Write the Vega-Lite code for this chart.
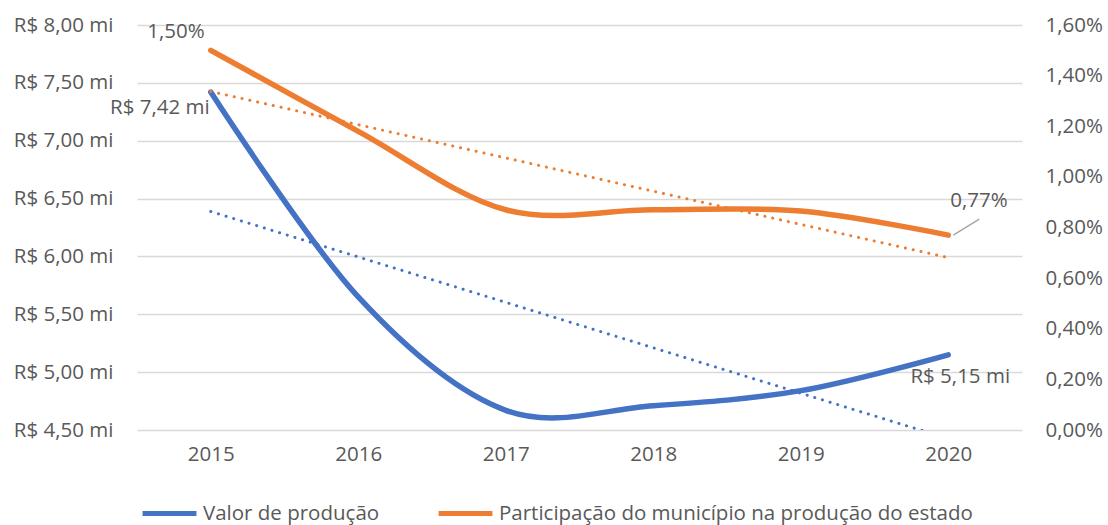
{
  "$schema": "https://vega.github.io/schema/vega-lite/v6.json",
  "width": 885,
  "height": 405,
  "autosize": {"type": "none"},
  "padding": {"left": 137, "top": 25, "right": 86, "bottom": 95},
  "background": "#ffffff",
  "config": {
    "font": "Open Sans",
    "view": {"stroke": null},
    "locale": {"number": {"decimal": ",", "thousands": ".", "grouping": [3], "currency": ["R$ ", " mi"]}},
    "text": {"font": "Open Sans", "fontSize": 20.5, "color": "#595959"}
  },
  "data": {
    "values": [
      {"ano": 2015, "valor": 7.42, "part": 0.0150},
      {"ano": 2016, "valor": 5.65, "part": 0.0118},
      {"ano": 2017, "valor": 4.67, "part": 0.0087},
      {"ano": 2018, "valor": 4.71, "part": 0.0087},
      {"ano": 2019, "valor": 4.84, "part": 0.00865},
      {"ano": 2020, "valor": 5.15, "part": 0.0077}
    ]
  },
  "encoding": {
    "x": {
      "field": "ano",
      "type": "quantitative",
      "title": null,
      "scale": {"domain": [2014.5, 2020.5], "nice": false, "zero": false},
      "axis": {
        "values": [2015, 2016, 2017, 2018, 2019, 2020],
        "format": "d",
        "grid": false,
        "domain": false,
        "ticks": false,
        "labelFontSize": 20.5,
        "labelColor": "#595959",
        "labelPadding": 14
      }
    }
  },
  "layer": [
    {
      "encoding": {
        "y": {
          "field": "valor",
          "type": "quantitative",
          "title": null,
          "scale": {"domain": [4.5, 8], "nice": false, "zero": false},
          "axis": {
            "values": [4.5, 5, 5.5, 6, 6.5, 7, 7.5, 8],
            "format": "$.2f",
            "grid": true,
            "gridColor": "#D9D9D9",
            "gridWidth": 1.3,
            "domain": false,
            "ticks": false,
            "labelFontSize": 20.5,
            "labelColor": "#595959",
            "labelPadding": 24
          }
        }
      },
      "layer": [
        {
          "mark": {"type": "line", "interpolate": "cardinal", "strokeWidth": 5.5, "strokeCap": "round"},
          "encoding": {
            "color": {
              "datum": "Valor de produção",
              "scale": {
                "domain": ["Valor de produção", "Participação do município na produção do estado"],
                "range": ["#4472C4", "#ED7D31"]
              },
              "legend": {
                "orient": "none",
                "legendX": 3,
                "legendY": 459,
                "direction": "horizontal",
                "title": null,
                "symbolType": "stroke",
                "symbolSize": 2900,
                "symbolStrokeWidth": 5,
                "labelFontSize": 20.5,
                "labelColor": "#595959",
                "labelFont": "Open Sans",
                "labelOffset": 4,
                "columnPadding": 48,
                "labelLimit": 600
              }
            }
          }
        },
        {
          "transform": [{"regression": "valor", "on": "ano"}],
          "mark": {"type": "line", "clip": true, "color": "#4472C4", "strokeDash": [0.1, 7.9], "strokeWidth": 3, "strokeCap": "round"}
        },
        {
          "transform": [{"filter": "datum.ano == 2015"}],
          "mark": {"type": "text", "align": "right", "baseline": "middle", "dx": -1, "dy": 16},
          "encoding": {"text": {"field": "valor", "type": "quantitative", "format": "$.2f"}}
        },
        {
          "transform": [{"filter": "datum.ano == 2020"}],
          "mark": {"type": "text", "align": "center", "baseline": "middle", "dx": 12, "dy": 22},
          "encoding": {"text": {"field": "valor", "type": "quantitative", "format": "$.2f"}}
        }
      ]
    },
    {
      "encoding": {
        "y": {
          "field": "part",
          "type": "quantitative",
          "title": null,
          "scale": {"domain": [0, 0.016], "nice": false},
          "axis": {
            "orient": "right",
            "values": [0, 0.002, 0.004, 0.006, 0.008, 0.01, 0.012, 0.014, 0.016],
            "format": ".2%",
            "grid": false,
            "domain": false,
            "ticks": false,
            "labelFontSize": 20.5,
            "labelColor": "#595959",
            "labelPadding": 23
          }
        }
      },
      "layer": [
        {
          "mark": {"type": "line", "interpolate": "cardinal", "strokeWidth": 5.5, "strokeCap": "round"},
          "encoding": {"color": {"datum": "Participação do município na produção do estado"}}
        },
        {
          "transform": [{"regression": "part", "on": "ano"}],
          "mark": {"type": "line", "clip": true, "color": "#ED7D31", "strokeDash": [0.1, 7.9], "strokeWidth": 3, "strokeCap": "round"}
        },
        {
          "transform": [{"filter": "datum.ano == 2020"}],
          "mark": {"type": "rule", "color": "#A6A6A6", "strokeWidth": 1.5, "xOffset": 5, "x2Offset": 31, "y2Offset": -16},
          "encoding": {"x2": {"field": "ano"}, "y2": {"field": "part"}}
        },
        {
          "transform": [{"filter": "datum.ano == 2015"}],
          "mark": {"type": "text", "align": "right", "baseline": "middle", "dx": -6, "dy": -18},
          "encoding": {"text": {"field": "part", "type": "quantitative", "format": ".2%"}}
        },
        {
          "transform": [{"filter": "datum.ano == 2020"}],
          "mark": {"type": "text", "align": "left", "baseline": "middle", "dx": 2, "dy": -34},
          "encoding": {"text": {"field": "part", "type": "quantitative", "format": ".2%"}}
        }
      ]
    }
  ],
  "resolve": {"scale": {"y": "independent"}}
}
